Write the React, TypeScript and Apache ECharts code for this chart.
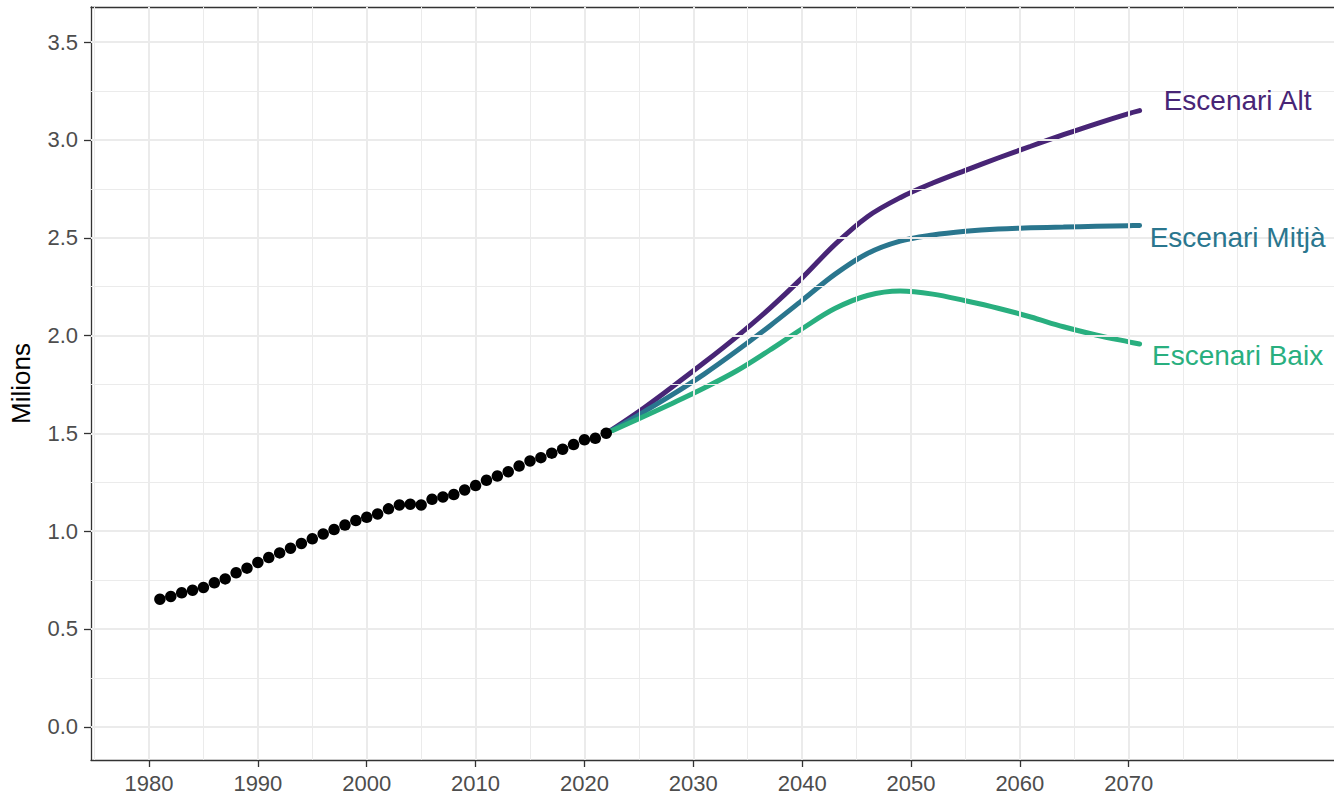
import React, { useEffect, useRef } from "react";
import * as echarts from "echarts";

const histYears = [
  1981, 1982, 1983, 1984, 1985, 1986, 1987, 1988, 1989, 1990,
  1991, 1992, 1993, 1994, 1995, 1996, 1997, 1998, 1999, 2000,
  2001, 2002, 2003, 2004, 2005, 2006, 2007, 2008, 2009, 2010,
  2011, 2012, 2013, 2014, 2015, 2016, 2017, 2018, 2019, 2020,
  2021, 2022,
];
const histValues = [
  0.652, 0.666, 0.685, 0.698, 0.712, 0.736, 0.756, 0.787, 0.811, 0.84,
  0.865, 0.889, 0.913, 0.937, 0.961, 0.986, 1.008, 1.031, 1.054, 1.071,
  1.088, 1.114, 1.134, 1.138, 1.134, 1.163, 1.175, 1.187, 1.211, 1.233,
  1.26, 1.282, 1.304, 1.333, 1.359, 1.376, 1.399, 1.419, 1.443, 1.467,
  1.475, 1.501,
];

const projYears = [2022, 2025, 2028, 2031, 2034, 2037, 2040, 2043, 2046, 2049, 2052, 2055, 2058, 2061, 2064, 2067, 2070, 2071];
const altValues = [1.5, 1.612, 1.735, 1.862, 1.995, 2.138, 2.295, 2.465, 2.608, 2.705, 2.78, 2.845, 2.908, 2.968, 3.027, 3.083, 3.135, 3.15];
const mitjaValues = [1.5, 1.595, 1.695, 1.803, 1.922, 2.048, 2.18, 2.313, 2.42, 2.483, 2.514, 2.533, 2.545, 2.551, 2.555, 2.559, 2.562, 2.563];
const baixValues = [1.5, 1.575, 1.652, 1.732, 1.82, 1.925, 2.035, 2.138, 2.205, 2.228, 2.212, 2.178, 2.14, 2.095, 2.045, 2.003, 1.968, 1.957];

const scenarioNames = ["Escenari Alt", "Escenari Mitjà", "Escenari Baix"];
const scenarioColors = ["#482576", "#2A768E", "#29AF7F"];
const labelX = [2080, 2080, 2080];
const labelY = [3.2, 2.5, 1.9];

const xTicks = [1980, 1990, 2000, 2010, 2020, 2030, 2040, 2050, 2060, 2070];
const xMinor = [1975, 1985, 1995, 2005, 2015, 2025, 2035, 2045, 2055, 2065, 2075, 2080];
const yTicks = [0, 0.5, 1, 1.5, 2, 2.5, 3, 3.5];
const yMinor = [0.25, 0.75, 1.25, 1.75, 2.25, 2.75, 3.25];

const X_MIN = 1974.67;
const X_MAX = 2088.86;
const Y_MIN = -0.17;
const Y_MAX = 3.68;

const FONT = "'Liberation Sans', Arial, Helvetica, sans-serif";

export default function App() {
  const ref = useRef<HTMLDivElement>(null);
  useEffect(() => {
    document.body.style.margin = "0";
    const chart = echarts.init(ref.current!, null, { renderer: "svg" });
    const gridColor = "#EBEBEB";
    const markData: any[] = [
      ...xMinor.map((v) => ({ xAxis: v, lineStyle: { color: gridColor, width: 1, type: "solid" } })),
      ...yMinor.map((v) => ({ yAxis: v, lineStyle: { color: gridColor, width: 1, type: "solid" } })),
      ...xTicks.map((v) => ({ xAxis: v, lineStyle: { color: gridColor, width: 2, type: "solid" } })),
      ...yTicks.map((v) => ({ yAxis: v, lineStyle: { color: gridColor, width: 2, type: "solid" } })),
    ];
    const scenarioSets = [altValues, mitjaValues, baixValues];
    const borderLine = { show: true, lineStyle: { color: "#333333", width: 1.3 } };
    chart.setOption({
      animation: false,
      textStyle: { fontFamily: FONT },
      grid: {
        left: 88,
        right: 0,
        top: 7,
        bottom: 34,
        show: true,
        borderWidth: 0,
        backgroundColor: "#ffffff",
      },
      xAxis: [
        {
          type: "value",
          min: X_MIN,
          max: X_MAX,
          axisLine: { ...borderLine, onZero: false },
          splitLine: { show: false },
          axisTick: {
            show: true,
            customValues: xTicks,
            length: 7,
            lineStyle: { color: "#333333", width: 1.3 },
          },
          axisLabel: {
            customValues: xTicks,
            color: "#4D4D4D",
            fontSize: 22,
            margin: 12,
            fontFamily: FONT,
            formatter: (v: number) => String(v),
          },
        },
        {
          type: "value",
          position: "top",
          min: X_MIN,
          max: X_MAX,
          axisLine: { ...borderLine, onZero: false },
          splitLine: { show: false },
          axisTick: { show: false },
          axisLabel: { show: false },
        },
      ],
      yAxis: {
        type: "value",
        min: Y_MIN,
        max: Y_MAX,
        axisLine: { ...borderLine, onZero: false },
        splitLine: { show: false },
        axisTick: {
          show: true,
          customValues: yTicks,
          length: 7,
          lineStyle: { color: "#333333", width: 1.3 },
        },
        axisLabel: {
          customValues: yTicks,
          color: "#4D4D4D",
          fontSize: 22,
          margin: 13,
          fontFamily: FONT,
          formatter: (v: number) => v.toFixed(1),
        },
        name: "Milions",
        nameLocation: "middle",
        nameGap: 57,
        nameTextStyle: { fontSize: 26, color: "#000000", fontFamily: FONT },
      },
      series: [
        {
          type: "line",
          data: [],
          z: 0,
          silent: true,
          markLine: {
            silent: true,
            symbol: ["none", "none"],
            label: { show: false },
            emphasis: { disabled: true },
            animation: false,
            data: markData,
          },
        },
        ...scenarioSets.map((vals, k) => ({
          type: "line",
          name: scenarioNames[k],
          data: projYears.map((y, i) => [y, vals[i]]),
          smooth: 0.35,
          showSymbol: false,
          symbol: "none",
          z: 3,
          silent: true,
          lineStyle: { color: scenarioColors[k], width: 5, cap: "round" },
          itemStyle: { color: scenarioColors[k] },
        })),
        {
          type: "scatter",
          data: histYears.map((y, i) => [y, histValues[i]]),
          symbolSize: 11.5,
          itemStyle: { color: "#000000", opacity: 1 },
          z: 5,
          silent: true,
        },
        {
          type: "scatter",
          silent: true,
          z: 6,
          symbolSize: 1,
          itemStyle: { color: "rgba(0,0,0,0)", opacity: 1 },
          data: scenarioNames.map((n, k) => ({
            value: [labelX[k], labelY[k]],
            name: n,
            label: {
              show: true,
              position: "inside",
              formatter: n,
              color: scenarioColors[k],
              opacity: 1,
              fontSize: 28,
              fontFamily: FONT,
            },
          })),
        },
      ],
    });
    return () => chart.dispose();
  }, []);
  return <div ref={ref} style={{ width: 1334, height: 794 }} />;
}
